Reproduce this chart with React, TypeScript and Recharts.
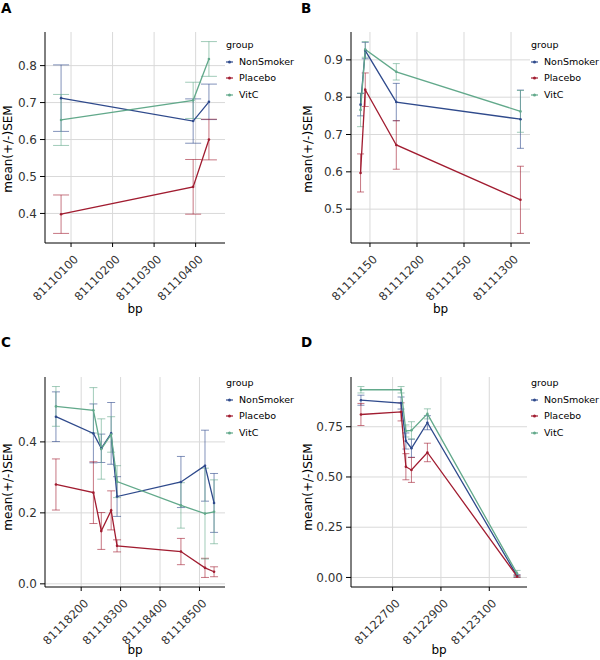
import React from 'react'
import { LineChart, Line, XAxis, YAxis, CartesianGrid, ErrorBar, Label } from 'recharts'

const GROUPS = ['NonSmoker', 'Placebo', 'VitC']
const COLORS: Record<string, string> = { NonSmoker: '#2f4a8c', Placebo: '#a11c30', VitC: '#62a98b' }

// panel A
const bpA = [81110076, 81110394, 81110432]
const aNonSmokerMean = [0.712, 0.65, 0.702]
const aNonSmokerSem = [0.09, 0.06, 0.048]
const aPlaceboMean = [0.398, 0.472, 0.6]
const aPlaceboSem = [0.052, 0.074, 0.055]
const aVitCMean = [0.653, 0.706, 0.818]
const aVitCSem = [0.069, 0.049, 0.047]
const xTicksA = [81110100, 81110200, 81110300, 81110400]
const yTicksA = [0.4, 0.5, 0.6, 0.7, 0.8]

// panel B
const bpB = [81111140, 81111145, 81111178, 81111310]
const bNonSmokerMean = [0.78, 0.925, 0.787, 0.741]
const bNonSmokerSem = [0.03, 0.022, 0.05, 0.078]
const bPlaceboMean = [0.597, 0.82, 0.672, 0.525]
const bPlaceboSem = [0.051, 0.045, 0.065, 0.09]
const bVitCMean = [0.766, 0.928, 0.868, 0.762]
const bVitCSem = [0.045, 0.021, 0.022, 0.056]
const xTicksB = [81111150, 81111200, 81111250, 81111300]
const yTicksB = [0.5, 0.6, 0.7, 0.8, 0.9]

// panel C
const bpC = [81118136, 81118231, 81118251, 81118276, 81118291, 81118453, 81118514, 81118537]
const cNonSmokerMean = [0.471, 0.424, 0.382, 0.424, 0.246, 0.287, 0.333, 0.228]
const cNonSmokerSem = [0.07, 0.083, 0.04, 0.087, 0.056, 0.072, 0.1, 0.083]
const cPlaceboMean = [0.28, 0.257, 0.149, 0.207, 0.107, 0.091, 0.045, 0.034]
const cPlaceboSem = [0.072, 0.087, 0.052, 0.055, 0.017, 0.037, 0.027, 0.014]
const cVitCMean = [0.5, 0.489, 0.38, 0.421, 0.288, 0.221, 0.198, 0.203]
const cVitCSem = [0.056, 0.064, 0.085, 0.05, 0.045, 0.064, 0.128, 0.09]
const xTicksC = [81118200, 81118300, 81118400, 81118500]
const yTicksC = [0, 0.2, 0.4]

// panel D
const bpD = [81122569, 81122735, 81122755, 81122778, 81122844, 81123215]
const dNonSmokerMean = [0.882, 0.868, 0.679, 0.643, 0.77, 0.008]
const dNonSmokerSem = [0.025, 0.03, 0.04, 0.045, 0.035, 0.006]
const dPlaceboMean = [0.811, 0.824, 0.551, 0.535, 0.622, 0.005]
const dPlaceboSem = [0.055, 0.045, 0.065, 0.062, 0.046, 0.005]
const dVitCMean = [0.934, 0.934, 0.729, 0.732, 0.814, 0.02]
const dVitCSem = [0.016, 0.016, 0.03, 0.043, 0.025, 0.015]
const xTicksD = [81122700, 81122900, 81123100]
const yTicksD = [0, 0.25, 0.5, 0.75]

type Row = { bp: number; mean: number; sem: number }

const rows = (bp: number[], mean: number[], sem: number[]): Row[] =>
  bp.map((b, i) => ({ bp: b, mean: mean[i], sem: sem[i] }))

// ggplot-like 5% expansion
const expand = (lo: number, hi: number): [number, number] => {
  const r = hi - lo
  return [lo - r * 0.05, hi + r * 0.05]
}

const FONT = '"DejaVu Sans", sans-serif'

function XTick(props: any) {
  const { x, y, payload } = props
  return (
    <g transform={`translate(${x + 8},${y + 11})`}>
      <text transform="rotate(-45)" textAnchor="end" fontSize={11.5} fill="#333" fontFamily={FONT}>
        {payload.value}
      </text>
    </g>
  )
}

interface PanelProps {
  letter: string
  bp: number[]
  series: { name: string; mean: number[]; sem: number[] }[]
  xTicks: number[]
  yTicks: number[]
  digits: number
  capBp: number
  capPx: number
  left: number
  right: number
  top: number
  bottom: number
  letterY: number
  yLabelY: number
  bpY: number
  legendX: number
  legendY: number
}

function Panel(p: PanelProps) {
  const data = p.series.map((s) => ({ name: s.name, rows: rows(p.bp, s.mean, s.sem) }))
  const all = data.flatMap((d) => d.rows)
  const yDomain = expand(Math.min(...all.map((r) => r.mean - r.sem)), Math.max(...all.map((r) => r.mean + r.sem)))
  const xDomain = expand(Math.min(...p.bp) - p.capBp, Math.max(...p.bp) + p.capBp)
  const plotW = 300 - p.left - p.right

  // grid only at the major ticks, no frame lines
  const vGen = ({ offset }: any) =>
    p.xTicks.map((t) => offset.left + ((t - xDomain[0]) / (xDomain[1] - xDomain[0])) * offset.width)
  const hGen = ({ offset }: any) =>
    p.yTicks.map((t) => offset.top + ((yDomain[1] - t) / (yDomain[1] - yDomain[0])) * offset.height)

  return (
    <div style={{ position: 'relative', width: 300, height: 330, fontFamily: FONT }}>
      <LineChart width={300} height={330} margin={{ top: p.top, right: p.right, bottom: 0, left: 0 }}>
        <CartesianGrid
          stroke="#d9d9d9"
          strokeWidth={1}
          verticalCoordinatesGenerator={vGen}
          horizontalCoordinatesGenerator={hGen}
        />
        <XAxis
          type="number"
          dataKey="bp"
          domain={xDomain}
          ticks={p.xTicks}
          interval={0}
          allowDataOverflow
          height={p.bottom}
          stroke="#000"
          tickSize={4}
          tick={<XTick />}
        >
          <Label
            content={() => (
              <text x={p.left + plotW / 2} y={p.bpY} textAnchor="middle" fontSize={12} fill="#000" fontFamily={FONT}>
                bp
              </text>
            )}
          />
        </XAxis>
        <YAxis
          type="number"
          domain={yDomain}
          ticks={p.yTicks}
          interval={0}
          allowDataOverflow
          width={p.left}
          stroke="#000"
          tickSize={5}
          tickMargin={3}
          tick={{ fill: '#333', fontSize: 12, fontFamily: FONT }}
          tickFormatter={(v: number) => v.toFixed(p.digits)}
        >
          <Label
            content={() => (
              <text
                x={11.5}
                y={p.yLabelY}
                transform={`rotate(-90 11.5 ${p.yLabelY})`}
                textAnchor="middle"
                fontSize={12}
                fill="#000"
                fontFamily={FONT}
              >
                mean(+/-)SEM
              </text>
            )}
          />
        </YAxis>
        {data.map((d) => (
          <Line
            key={d.name + '-err'}
            data={d.rows}
            dataKey="mean"
            stroke="none"
            dot={false}
            activeDot={false}
            isAnimationActive={false}
          >
            <ErrorBar dataKey="sem" width={p.capPx} stroke={COLORS[d.name]} strokeOpacity={0.6} strokeWidth={1} />
          </Line>
        ))}
        {data.map((d) => (
          <Line
            key={d.name}
            data={d.rows}
            dataKey="mean"
            stroke={COLORS[d.name]}
            strokeWidth={1.3}
            dot={{ r: 1.3, fill: COLORS[d.name], stroke: 'none' }}
            activeDot={false}
            isAnimationActive={false}
          />
        ))}
      </LineChart>
      <div style={{ position: 'absolute', left: 1, top: p.letterY, fontSize: 13.5, fontWeight: 'bold', lineHeight: '14px' }}>
        {p.letter}
      </div>
      <div style={{ position: 'absolute', left: p.legendX, top: p.legendY, fontSize: 9.5, lineHeight: '16.6px', color: '#000' }}>
        <div>group</div>
        {GROUPS.map((g) => (
          <div key={g} style={{ display: 'flex', alignItems: 'center' }}>
            <svg width={12} height={8} style={{ marginRight: 1 }}>
              <line x1={0} y1={4} x2={7} y2={4} stroke={COLORS[g]} strokeWidth={1.2} />
              <circle cx={3.5} cy={4} r={1.5} fill={COLORS[g]} />
            </svg>
            <span>{g}</span>
          </div>
        ))}
      </div>
    </div>
  )
}

export default function App() {
  return (
    <div style={{ position: 'absolute', left: 0, top: 0, width: 600, height: 660, background: '#fff', display: 'flex', flexWrap: 'wrap' }}>
      <Panel
        letter="A"
        bp={bpA}
        series={[
          { name: 'NonSmoker', mean: aNonSmokerMean, sem: aNonSmokerSem },
          { name: 'Placebo', mean: aPlaceboMean, sem: aPlaceboSem },
          { name: 'VitC', mean: aVitCMean, sem: aVitCSem },
        ]}
        xTicks={xTicksA}
        yTicks={yTicksA}
        digits={1}
        capBp={19}
        capPx={8}
        left={45}
        right={75}
        top={32}
        bottom={87}
        letterY={1}
        yLabelY={149}
        bpY={313}
        legendX={226}
        legendY={37}
      />
      <Panel
        letter="B"
        bp={bpB}
        series={[
          { name: 'NonSmoker', mean: bNonSmokerMean, sem: bNonSmokerSem },
          { name: 'Placebo', mean: bPlaceboMean, sem: bPlaceboSem },
          { name: 'VitC', mean: bVitCMean, sem: bVitCSem },
        ]}
        xTicks={xTicksB}
        yTicks={yTicksB}
        digits={1}
        capBp={1.5}
        capPx={3.5}
        left={51}
        right={70}
        top={32}
        bottom={87}
        letterY={1}
        yLabelY={149}
        bpY={313}
        legendX={231}
        legendY={37}
      />
      <Panel
        letter="C"
        bp={bpC}
        series={[
          { name: 'NonSmoker', mean: cNonSmokerMean, sem: cNonSmokerSem },
          { name: 'Placebo', mean: cPlaceboMean, sem: cPlaceboSem },
          { name: 'VitC', mean: cVitCMean, sem: cVitCSem },
        ]}
        xTicks={xTicksC}
        yTicks={yTicksC}
        digits={1}
        capBp={7}
        capPx={4}
        left={45}
        right={75}
        top={47}
        bottom={73}
        letterY={5}
        yLabelY={157}
        bpY={324}
        legendX={226}
        legendY={45}
      />
      <Panel
        letter="D"
        bp={bpD}
        series={[
          { name: 'NonSmoker', mean: dNonSmokerMean, sem: dNonSmokerSem },
          { name: 'Placebo', mean: dPlaceboMean, sem: dPlaceboSem },
          { name: 'VitC', mean: dVitCMean, sem: dVitCSem },
        ]}
        xTicks={xTicksD}
        yTicks={yTicksD}
        digits={2}
        capBp={8}
        capPx={3.5}
        left={51}
        right={73}
        top={47}
        bottom={73}
        letterY={5}
        yLabelY={157}
        bpY={324}
        legendX={231}
        legendY={45}
      />
    </div>
  )
}
